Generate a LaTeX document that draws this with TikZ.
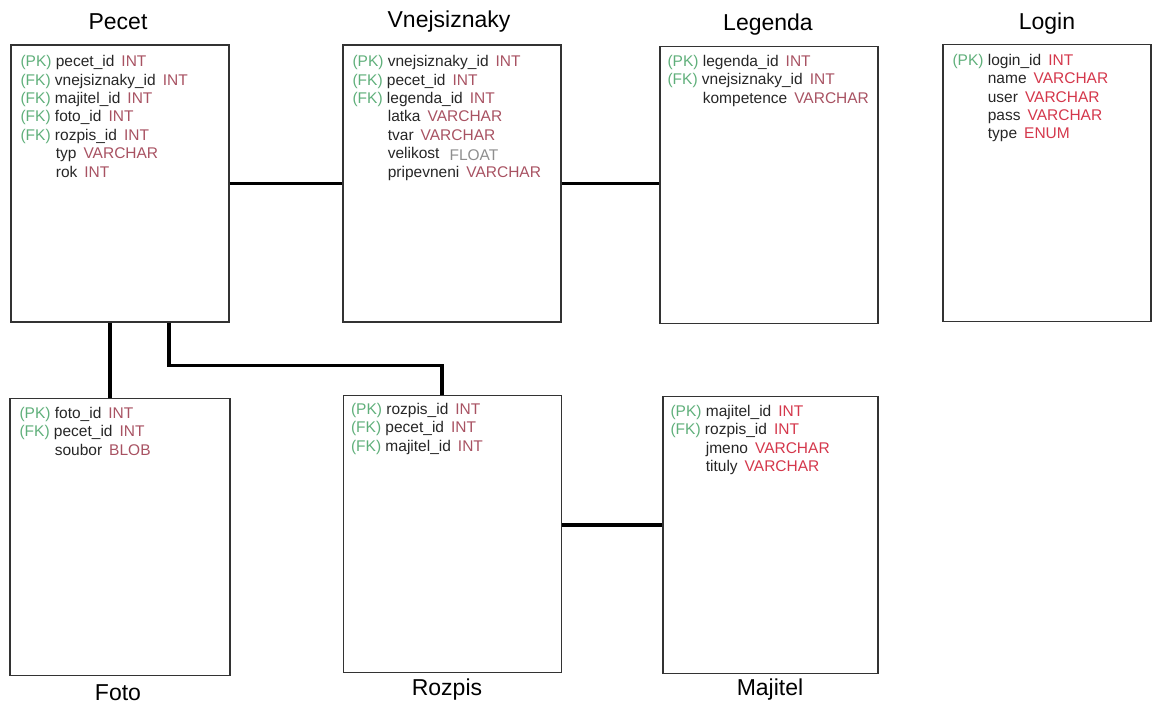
\documentclass[tikz,border=0pt]{standalone}
\usepackage{fontspec}
\setmainfont{Liberation Sans}
\usepackage{xcolor}
\definecolor{keygreen}{HTML}{5FAF7A}
\definecolor{typered}{HTML}{A85262}
\definecolor{typebright}{HTML}{D4374B}
\definecolor{floatgray}{HTML}{8E8E8E}
\definecolor{boxgray}{HTML}{333333}
\newcommand{\keytag}[1]{\textcolor{keygreen}{(#1)}~}
\newcommand{\nokey}{\hphantom{(PK)~}}
\newcommand{\dtype}[1]{\hspace{7pt}\textcolor{typered}{#1}}
\newcommand{\dtypeb}[1]{\hspace{7pt}\textcolor{typebright}{#1}}

\begin{document}
\begin{tikzpicture}[x=1pt, y=-1pt,
    tbl/.style={draw=boxgray, line width=1.3pt, minimum width=218pt, minimum height=277pt, inner sep=0pt},
    rows/.style={anchor=north west, inner sep=0pt, align=left, text=black!85, font=\fontsize{15.5}{18.4}\selectfont},
    title/.style={font=\fontsize{23}{23}\selectfont},
    link/.style={line width=3.2pt}]
    \useasboundingbox (0,0) rectangle (1152,708);

    % Tables
    \node[tbl] (pecet) at (120,183.5) {};
    \node[tbl] (vnejsiznaky) at (452,183.5) {};
    \node[tbl] (legenda) at (769,185) {};
    \node[tbl, minimum width=208pt] (login) at (1047,183) {};
    \node[tbl, minimum width=220pt] (foto) at (120,537) {};
    \node[tbl] (rozpis) at (452.5,534) {};
    \node[tbl, minimum width=215pt] (majitel) at (770.5,535) {};

    % Titles
    \node[title] (pecettitle) at (118,22) {Pecet};
    \node[title] (vnejsiznakytitle) at (449,22) {Vnejsiznaky};
    \node[title] (legendatitle) at (768,25) {Legenda};
    \node[title] (logintitle) at (1047,24) {Login};
    \node[title] (fototitle) at (118,693) {Foto};
    \node[title] (rozpistitle) at (447,690) {Rozpis};
    \node[title] (majiteltitle) at (770,690) {Majitel};

    % Columns
    \node[rows] (pecetrows) at ([shift={(10pt,-11pt)}]pecet.north west) {%
        \keytag{PK}pecet\_id\dtype{INT}\\
        \keytag{FK}vnejsiznaky\_id\dtype{INT}\\
        \keytag{FK}majitel\_id\dtype{INT}\\
        \keytag{FK}foto\_id\dtype{INT}\\
        \keytag{FK}rozpis\_id\dtype{INT}\\
        \nokey typ\dtype{VARCHAR}\\
        \nokey rok\dtype{INT}};
    \node[rows] (vnejsiznakyrows) at ([shift={(10pt,-11pt)}]vnejsiznaky.north west) {%
        \keytag{PK}vnejsiznaky\_id\dtype{INT}\\
        \keytag{FK}pecet\_id\dtype{INT}\\
        \keytag{FK}legenda\_id\dtype{INT}\\
        \nokey latka\dtype{VARCHAR}\\
        \nokey tvar\dtype{VARCHAR}\\
        \nokey velikost\hspace{10pt}\raisebox{-2pt}{\textcolor{floatgray}{FLOAT}}\\
        \nokey pripevneni\dtype{VARCHAR}};
    \node[rows] (legendarows) at ([shift={(8pt,-9pt)}]legenda.north west) {%
        \keytag{PK}legenda\_id\dtype{INT}\\
        \keytag{FK}vnejsiznaky\_id\dtype{INT}\\
        \nokey kompetence\dtype{VARCHAR}};
    \node[rows] (loginrows) at ([shift={(10pt,-10pt)}]login.north west) {%
        \keytag{PK}login\_id\dtypeb{INT}\\
        \nokey name\dtypeb{VARCHAR}\\
        \nokey user\dtypeb{VARCHAR}\\
        \nokey pass\dtypeb{VARCHAR}\\
        \nokey type\dtypeb{ENUM}};
    \node[rows] (fotorows) at ([shift={(10pt,-9pt)}]foto.north west) {%
        \keytag{PK}foto\_id\dtype{INT}\\
        \keytag{FK}pecet\_id\dtype{INT}\\
        \nokey soubor\dtype{BLOB}};
    \node[rows] (rozpisrows) at ([shift={(8pt,-8pt)}]rozpis.north west) {%
        \keytag{PK}rozpis\_id\dtype{INT}\\
        \keytag{FK}pecet\_id\dtype{INT}\\
        \keytag{FK}majitel\_id\dtype{INT}};
    \node[rows] (majitelrows) at ([shift={(8pt,-9pt)}]majitel.north west) {%
        \keytag{PK}majitel\_id\dtypeb{INT}\\
        \keytag{FK}rozpis\_id\dtypeb{INT}\\
        \nokey jmeno\dtypeb{VARCHAR}\\
        \nokey tituly\dtypeb{VARCHAR}};

    % Relations
    \draw[link] (pecet.east) -- (vnejsiznaky.west);
    \draw[link] (vnejsiznaky.east) -- (vnejsiznaky.east -| legenda.west);
    \draw[link] ([xshift=-10pt]pecet.south) -- ([xshift=-10pt]pecet.south |- foto.north);
    \draw[link] ([xshift=49pt]pecet.south) -- ++(0,43) -| ([xshift=-10.5pt]rozpis.north);
    \draw[link] ([yshift=9pt]rozpis.east) -- ([yshift=9pt]rozpis.east -| majitel.west);
\end{tikzpicture}
\end{document}
